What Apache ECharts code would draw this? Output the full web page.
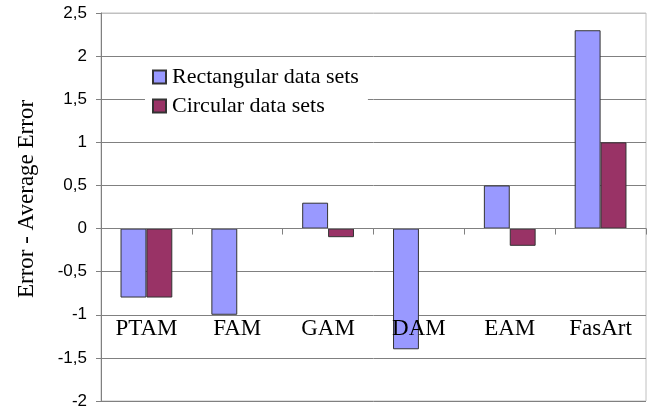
<!DOCTYPE html>
<html>
<head>
<meta charset="utf-8">
<script src="https://cdn.jsdelivr.net/npm/echarts@6/dist/echarts.min.js"></script>
<style>
  html, body { margin: 0; padding: 0; background: #fff; }
  #chart { width: 655px; height: 411px; }
</style>
</head>
<body>
<div id="chart"></div>
<script>
// Per-method deviation from the average error
const methods = ['PTAM', 'FAM', 'GAM', 'DAM', 'EAM', 'FasArt'];
const rectangularSets = [-0.8, -1.0, 0.3, -1.4, 0.5, 2.3];
const circularSets = [-0.8, null, -0.1, null, -0.2, 1.0];
const seriesNames = ['Rectangular data sets', 'Circular data sets'];
const axisTitle = 'Error - Average Error';

const serif = '"Liberation Serif", "Times New Roman", serif';
const sans = '"Liberation Sans", Arial, sans-serif';

const chart = echarts.init(document.getElementById('chart'), null, { renderer: 'canvas' });

// gridlines: dark except the top edge, which is light like the frame
const gridColors = ['#808080', '#808080', '#808080', '#808080', '#808080',
                    '#808080', '#808080', '#808080', '#808080', '#c0c0c0'];

chart.setOption({
  animation: false,
  backgroundColor: '#fff',
  grid: {
    left: 101, right: 9, top: 13, bottom: 10,
    containLabel: false,
    outerBoundsMode: 'none',
    show: true, borderColor: '#c0c0c0', borderWidth: 1, backgroundColor: 'transparent'
  },
  legend: {
    orient: 'vertical',
    left: 145, top: 61,
    backgroundColor: '#fff',
    padding: [5, 9, 5, 7],
    itemWidth: 13, itemHeight: 13, itemGap: 7,
    icon: 'rect',
    textStyle: { fontFamily: serif, fontSize: 22, color: '#000', padding: [0, 0, 0, 1] },
    data: seriesNames
  },
  xAxis: {
    type: 'category',
    data: methods,
    z: 10,
    axisLine: { onZero: true, lineStyle: { color: '#808080', width: 1 } },
    axisTick: { show: true, inside: false, length: 6, alignWithLabel: false, lineStyle: { color: '#808080' } },
    axisLabel: { margin: -84, fontFamily: serif, fontSize: 23, color: '#000' },
    splitLine: { show: false }
  },
  yAxis: {
    type: 'value',
    min: -2, max: 2.5, interval: 0.5,
    name: axisTitle,
    nameLocation: 'middle',
    nameGap: 63,
    nameTextStyle: { fontFamily: serif, fontSize: 23, color: '#000', padding: [0, 0, 0, 16] },
    axisLine: { show: true, lineStyle: { color: '#808080', width: 1 } },
    axisTick: { show: true, length: 5, lineStyle: { color: '#808080' } },
    axisLabel: {
      margin: 14, fontFamily: sans, fontSize: 17, color: '#000',
      formatter: v => String(v).replace('.', ',')
    },
    splitLine: { show: true, lineStyle: { color: gridColors, width: 1 } }
  },
  series: [
    {
      name: seriesNames[0], type: 'bar', data: rectangularSets,
      barGap: '0%', barCategoryGap: '43%',
      itemStyle: { color: '#9999ff', borderColor: '#333', borderWidth: 1 }
    },
    {
      name: seriesNames[1], type: 'bar', data: circularSets,
      itemStyle: { color: '#993366', borderColor: '#333', borderWidth: 1 }
    }
  ]
});
</script>
</body>
</html>
